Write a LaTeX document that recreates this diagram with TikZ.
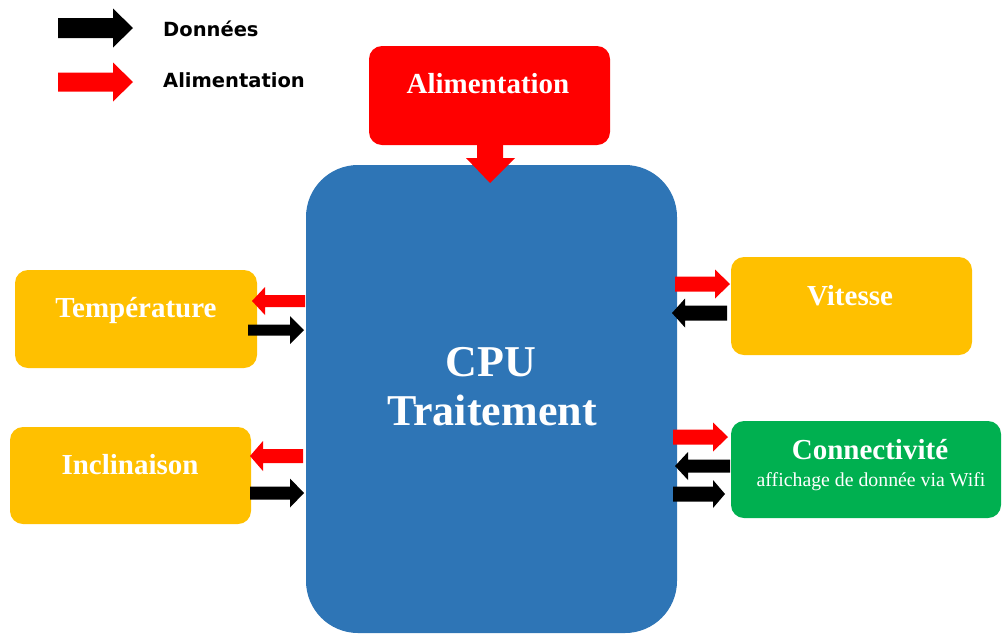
\documentclass[tikz,border=0pt]{standalone}
\usepackage{fontspec}
\setmainfont{Liberation Serif}
\newfontfamily\legendfont{DejaVu Sans}
\definecolor{pwr}{HTML}{FF0000}
\definecolor{cpublue}{HTML}{2E75B6}
\definecolor{sensor}{HTML}{FFC000}
\definecolor{netgreen}{HTML}{00B050}
% horizontal block arrow: colour, tail x, head base x, tip x, centre y, half shaft, half head
\newcommand{\hblock}[7]{%
  \fill[#1] (#2,#5-#6) -- (#3,#5-#6) -- (#3,#5-#7) -- (#4,#5)
    -- (#3,#5+#7) -- (#3,#5+#6) -- (#2,#5+#6) -- cycle;}
\tikzset{
  box/.style={rectangle, rounded corners=13pt, inner sep=0pt, draw=none},
  title/.style={text=white, anchor=base, inner sep=0pt,
    font=\bfseries\fontsize{29}{31}\selectfont},
  legendtext/.style={anchor=base west, inner sep=0pt,
    font=\legendfont\bfseries\fontsize{19.5}{23}\selectfont}
}
\begin{document}
\begin{tikzpicture}[x=1pt,y=-1pt]
\useasboundingbox (0,0) rectangle (1003,633);

% legend
\hblock{black}{58}{113}{133}{28}{10}{19.5}
\hblock{pwr}{58}{113}{133}{82}{9.5}{19.5}
\node[legendtext] (legdata) at (163,36) {Données};
\node[legendtext] (legpwr) at (163,87) {Alimentation};

% blocks
\node[box, fill=pwr, minimum width=241pt, minimum height=99pt] (alim) at (489.5,95.5) {};
\node[box, fill=cpublue, rounded corners=52pt, minimum width=371pt, minimum height=468pt] (cpu) at (491.5,399) {};
\node[box, fill=sensor, minimum width=242pt, minimum height=98pt] (temp) at (136,319) {};
\node[box, fill=sensor, minimum width=241pt, minimum height=97pt] (incl) at (130.5,475.5) {};
\node[box, fill=sensor, minimum width=241pt, minimum height=98pt] (vit) at (851.5,306) {};
\node[box, fill=netgreen, minimum width=270pt, minimum height=97pt] (conn) at (866,469.5) {};

% labels
\node[title] (alimtxt) at (488,93) {Alimentation};
\node[title, font=\bfseries\fontsize{44}{48}\selectfont] (cputxt1) at (491,376) {CPU};
\node[title, font=\bfseries\fontsize{44}{48}\selectfont] (cputxt2) at (492,425) {Traitement};
\node[title] (temptxt) at (136,317) {Température};
\node[title] (incltxt) at (130,474) {Inclinaison};
\node[title] (vittxt) at (850,305) {Vitesse};
\node[title] (conntxt) at (870,459) {Connectivité};
\node[title, font=\fontsize{19.8}{22}\selectfont] (connsub) at (871,486) {affichage de donnée via Wifi};

% power feed into the CPU
\fill[pwr] (477,140) -- (503,140) -- (503,158) -- (515,158) -- (490,183)
  -- (466,158) -- (477,158) -- cycle;

% sensor links
\hblock{pwr}{305}{265}{252}{301}{6}{14}
\hblock{black}{248}{290}{304}{330}{5.5}{14}
\hblock{pwr}{303}{263}{250}{456}{7}{15}
\hblock{black}{250}{290}{304}{493}{6.5}{14.5}

% output links
\hblock{pwr}{675}{715}{730}{284}{7.5}{14.5}
\hblock{black}{727}{685}{672}{313}{7.5}{14.5}
\hblock{pwr}{673}{713}{728}{437}{7.5}{14.5}
\hblock{black}{730}{688}{675}{466}{6.5}{14}
\hblock{black}{673}{713}{725}{494}{7.5}{14}
\end{tikzpicture}
\end{document}
